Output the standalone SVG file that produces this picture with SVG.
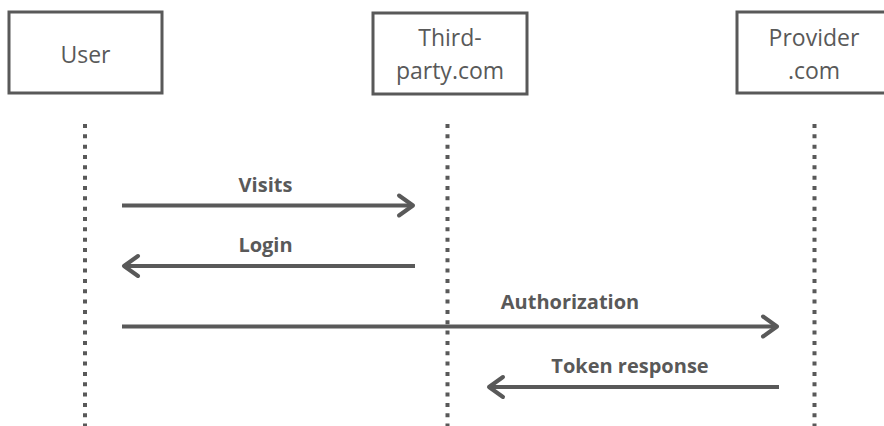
<svg xmlns="http://www.w3.org/2000/svg" width="884" height="426" viewBox="0 0 884 426">
  <defs>
    <style>
      .box { fill: #ffffff; stroke: #595959; stroke-width: 3; }
      .ntext { font-family: "Open Sans", "Liberation Sans", sans-serif; font-size: 23px; fill: #595959; text-anchor: middle; }
      .ltext { font-family: "Open Sans", "Liberation Sans", sans-serif; font-size: 20px; font-weight: bold; fill: #595959; text-anchor: middle; }
      .life { stroke: #595959; stroke-width: 4; stroke-dasharray: 4 6.33; fill: none; }
      .msg { stroke: #595959; stroke-width: 4; fill: none; marker-end: url(#arrow); }
    </style>
    <marker id="arrow" markerUnits="userSpaceOnUse" viewBox="-20 -14 26 28" refX="0" refY="0" markerWidth="26" markerHeight="28" orient="auto" overflow="visible">
      <path d="M -14 -10 L 0 0 L -14 10" fill="none" stroke="#595959" stroke-width="4" stroke-linejoin="round" stroke-linecap="round"/>
    </marker>
  </defs>
  <rect width="884" height="426" fill="#ffffff"/>

  <g id="node-user">
    <rect class="box" x="9" y="12" width="153" height="81"/>
    <text class="ntext" x="85.5" y="63">User</text>
    <line class="life" x1="85" y1="124" x2="85" y2="426"/>
  </g>
  <g id="node-thirdparty">
    <rect class="box" x="373" y="13" width="154" height="81"/>
    <text class="ntext" x="450" y="46">Third-</text>
    <text class="ntext" x="450" y="79">party.com</text>
    <line class="life" x1="447.5" y1="124" x2="447.5" y2="426"/>
  </g>
  <g id="node-provider">
    <rect class="box" x="737" y="12" width="156" height="81"/>
    <text class="ntext" x="814" y="46">Provider</text>
    <text class="ntext" x="814" y="79">.com</text>
    <line class="life" x1="814.5" y1="124" x2="814.5" y2="426"/>
  </g>

  <g id="connectors">
    <line class="msg" x1="122" y1="205.5" x2="413" y2="205.5"/>
    <text class="ltext" x="265.5" y="192">Visits</text>
    <line class="msg" x1="415" y1="266" x2="124" y2="266"/>
    <text class="ltext" x="265.5" y="252">Login</text>
    <line class="msg" x1="122" y1="326.5" x2="777" y2="326.5"/>
    <text class="ltext" x="570" y="309">Authorization</text>
    <line class="msg" x1="779" y1="387" x2="489" y2="387"/>
    <text class="ltext" x="630" y="373">Token response</text>
  </g>
</svg>
